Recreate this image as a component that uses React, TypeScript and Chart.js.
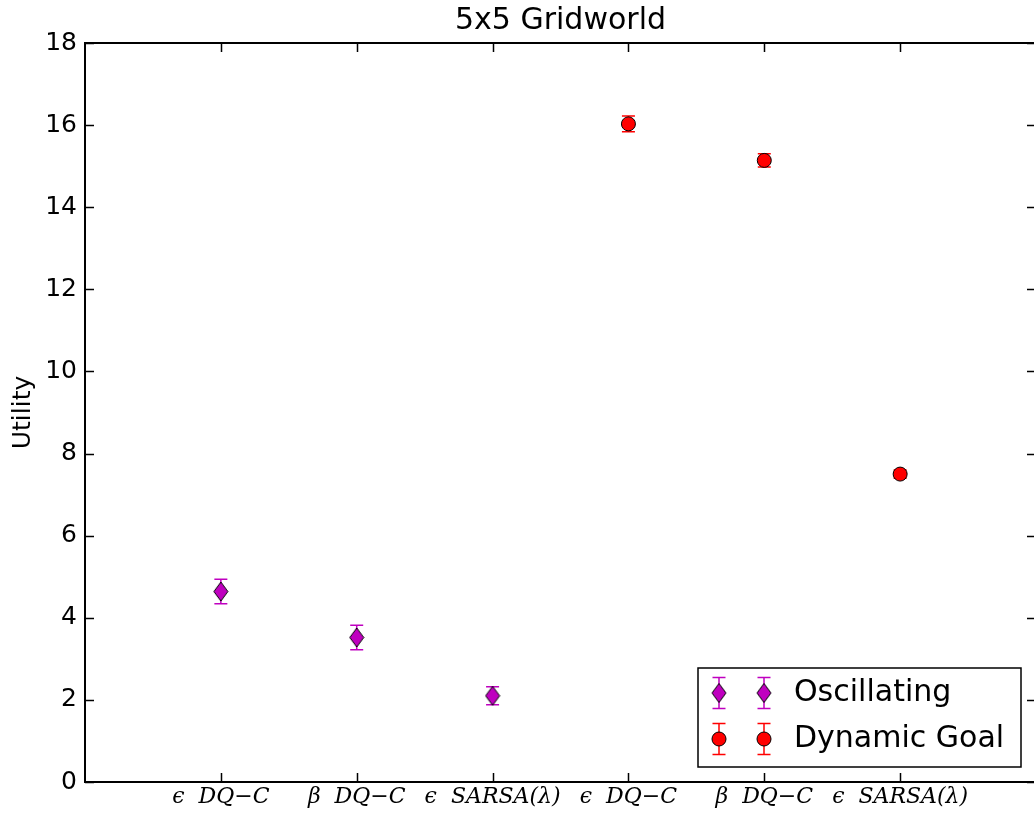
import React, { useEffect, useRef } from 'react';
import { Chart, registerables } from 'chart.js';

Chart.register(...registerables);

// ---- data ----
const categoryPositions = [1, 2, 3, 4, 5, 6];
const categoryLabels = ['ϵ  DQ−C', 'β  DQ−C', 'ϵ  SARSA(λ)', 'ϵ  DQ−C', 'β  DQ−C', 'ϵ  SARSA(λ)'];
const yTickValues = [0, 2, 4, 6, 8, 10, 12, 14, 16, 18];

const oscillatingX = [1, 2, 3];
const oscillatingY = [4.64, 3.52, 2.1];
const oscillatingErr = [0.3, 0.3, 0.22];

const dynamicX = [4, 5, 6];
const dynamicY = [16.03, 15.14, 7.5];
const dynamicErr = [0.19, 0.16, 0.1];

const seriesNames = ['Oscillating', 'Dynamic Goal'];
const chartTitle = '5x5 Gridworld';
const yAxisTitle = 'Utility';

const MAGENTA = '#bf00bf';
const RED = '#ff0000';

function makeDiamond(w: number, h: number, fill: string): HTMLCanvasElement {
  const c = document.createElement('canvas');
  c.width = w + 2;
  c.height = h + 2;
  const g = c.getContext('2d')!;
  g.beginPath();
  g.moveTo(c.width / 2, 1);
  g.lineTo(c.width - 1, c.height / 2);
  g.lineTo(c.width / 2, c.height - 1);
  g.lineTo(1, c.height / 2);
  g.closePath();
  g.fillStyle = fill;
  g.fill();
  g.strokeStyle = '#000';
  g.lineWidth = 1;
  g.stroke();
  return c;
}

export default function App() {
  const canvasRef = useRef<HTMLCanvasElement | null>(null);

  useEffect(() => {
    const canvas = canvasRef.current;
    if (!canvas) return;
    const diamond = makeDiamond(14, 19, MAGENTA);

    const errorSeries = [
      { xs: oscillatingX, ys: oscillatingY, errs: oscillatingErr, color: MAGENTA },
      { xs: dynamicX, ys: dynamicY, errs: dynamicErr, color: RED },
    ];

    const drawCircle = (ctx: CanvasRenderingContext2D, x: number, y: number) => {
      ctx.beginPath();
      ctx.arc(x, y, 7, 0, Math.PI * 2);
      ctx.fillStyle = RED;
      ctx.fill();
      ctx.strokeStyle = '#000';
      ctx.lineWidth = 1;
      ctx.stroke();
    };

    const drawErr = (ctx: CanvasRenderingContext2D, x: number, y1: number, y2: number, color: string) => {
      ctx.strokeStyle = color;
      ctx.lineWidth = 1.5;
      ctx.beginPath();
      ctx.moveTo(x, y1);
      ctx.lineTo(x, y2);
      ctx.moveTo(x - 6.5, y1);
      ctx.lineTo(x + 6.5, y1);
      ctx.moveTo(x - 6.5, y2);
      ctx.lineTo(x + 6.5, y2);
      ctx.stroke();
    };

    const decor = {
      id: 'decor',
      beforeDatasetsDraw(chart: any) {
        const ctx = chart.ctx as CanvasRenderingContext2D;
        const xs = chart.scales.x;
        const ys = chart.scales.y;
        ctx.save();
        errorSeries.forEach((s) => {
          s.xs.forEach((xv, i) => {
            const px = xs.getPixelForValue(xv);
            drawErr(ctx, px, ys.getPixelForValue(s.ys[i] + s.errs[i]), ys.getPixelForValue(s.ys[i] - s.errs[i]), s.color);
          });
        });
        ctx.restore();
      },
      afterDraw(chart: any) {
        const ctx = chart.ctx as CanvasRenderingContext2D;
        const ca = chart.chartArea;
        const xs = chart.scales.x;
        const ys = chart.scales.y;
        ctx.save();
        // inward ticks
        ctx.strokeStyle = '#000';
        ctx.lineWidth = 1.5;
        ctx.beginPath();
        ys.ticks.forEach((t: any) => {
          const py = Math.round(ys.getPixelForValue(t.value)) + 0.5;
          ctx.moveTo(ca.left, py);
          ctx.lineTo(ca.left + 9, py);
          ctx.moveTo(ca.right, py);
          ctx.lineTo(ca.right - 9, py);
        });
        xs.ticks.forEach((t: any) => {
          const px = Math.round(xs.getPixelForValue(t.value)) + 0.5;
          ctx.moveTo(px, ca.bottom);
          ctx.lineTo(px, ca.bottom - 9);
          ctx.moveTo(px, ca.top);
          ctx.lineTo(px, ca.top + 9);
        });
        ctx.stroke();
        // spines (left, top, bottom; the right one lies past the visible page edge)
        ctx.lineWidth = 2;
        ctx.beginPath();
        ctx.moveTo(ca.right + 2, ca.top);
        ctx.lineTo(ca.left, ca.top);
        ctx.lineTo(ca.left, ca.bottom);
        ctx.lineTo(ca.right + 2, ca.bottom);
        ctx.stroke();

        // title
        ctx.fillStyle = '#000';
        ctx.font = '30px "DejaVu Sans"';
        ctx.textAlign = 'center';
        ctx.textBaseline = 'middle';
        ctx.fillText(chartTitle, (ca.left + ca.right) / 2, 21);

        // legend
        const bw = 323;
        const bh = 99;
        const lx = ca.right - 15 - bw;
        const ly = ca.bottom - 15 - bh;
        ctx.fillStyle = '#fff';
        ctx.fillRect(lx, ly, bw, bh);
        ctx.strokeStyle = '#000';
        ctx.lineWidth = 1.5;
        ctx.strokeRect(lx, ly, bw, bh);
        const rows = [ly + 25, ly + 71];
        const mx = [lx + 21, lx + 66];
        rows.forEach((ry, r) => {
          const color = r === 0 ? MAGENTA : RED;
          mx.forEach((x) => {
            drawErr(ctx, x, ry - 15.5, ry + 15.5, color);
            if (r === 0) {
              ctx.drawImage(diamond, x - diamond.width / 2, ry - diamond.height / 2);
            } else {
              drawCircle(ctx, x, ry);
            }
          });
          ctx.fillStyle = '#000';
          ctx.font = '30px "DejaVu Sans"';
          ctx.textAlign = 'left';
          ctx.textBaseline = 'middle';
          ctx.fillText(seriesNames[r], lx + 96, ry);
        });
        ctx.restore();
      },
    };

    const chart = new Chart(canvas, {
      type: 'scatter',
      data: {
        datasets: [
          {
            label: seriesNames[0],
            data: oscillatingX.map((x, i) => ({ x, y: oscillatingY[i] })),
            pointStyle: diamond as any,
            pointRadius: 8,
            backgroundColor: MAGENTA,
            borderColor: '#000',
          },
          {
            label: seriesNames[1],
            data: dynamicX.map((x, i) => ({ x, y: dynamicY[i] })),
            pointStyle: 'circle',
            pointRadius: 7,
            backgroundColor: RED,
            borderColor: '#000',
            borderWidth: 1,
          },
        ],
      },
      options: {
        responsive: false,
        animation: false,
        events: [],
        layout: { padding: { top: 43, right: 1, left: 0, bottom: 0 } },
        plugins: {
          legend: { display: false },
          tooltip: { enabled: false },
          title: { display: false },
        },
        scales: {
          x: {
            type: 'linear',
            min: 0,
            max: 7,
            grid: { display: false, drawTicks: false },
            border: { display: false },
            afterBuildTicks: (scale: any) => {
              scale.ticks = categoryPositions.map((v) => ({ value: v }));
            },
            afterFit: (scale: any) => {
              scale.height = 39;
            },
            ticks: {
              padding: 2,
              autoSkip: false,
              maxRotation: 0,
              color: '#000',
              font: { family: '"DejaVu Serif"', style: 'italic', size: 22 },
              callback: (v: any) => {
                const i = categoryPositions.indexOf(Number(v));
                return i >= 0 ? categoryLabels[i] : '';
              },
            },
          },
          y: {
            type: 'linear',
            min: 0,
            max: 18,
            grid: { display: false, drawTicks: false },
            border: { display: false },
            afterBuildTicks: (scale: any) => {
              scale.ticks = yTickValues.map((v) => ({ value: v }));
            },
            afterFit: (scale: any) => {
              scale.width = 85;
            },
            title: {
              display: true,
              text: yAxisTitle,
              color: '#000',
              font: { family: '"DejaVu Sans"', size: 25 },
              padding: { top: 8, bottom: 0 },
            },
            ticks: {
              padding: 8,
              color: '#000',
              font: { family: '"DejaVu Sans"', size: 25 },
              callback: (v: any) => String(v),
            },
          },
        },
      },
      plugins: [decor],
    });

    return () => {
      chart.destroy();
    };
  }, []);

  return (
    <div style={{ position: 'absolute', left: 0, top: 0, width: 1034, height: 821, overflow: 'hidden', background: '#fff' }}>
      <canvas ref={canvasRef} width={1045} height={821} style={{ display: 'block' }} />
    </div>
  );
}
